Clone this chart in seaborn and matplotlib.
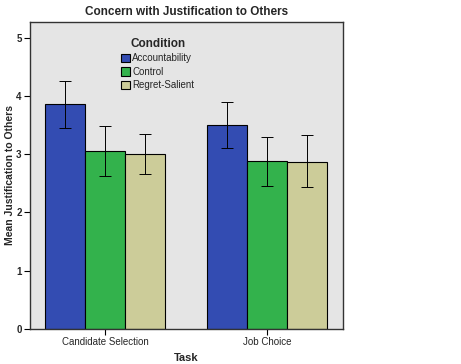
import pandas as pd
import numpy as np
import matplotlib.pyplot as plt
import seaborn as sns

tasks = ['Candidate Selection', 'Job Choice']
conditions = ['Accountability', 'Control', 'Regret-Salient']
means = {
    'Accountability': [3.86, 3.50],
    'Control': [3.05, 2.88],
    'Regret-Salient': [3.00, 2.87],
}
ci_low = {
    'Accountability': [3.45, 3.10],
    'Control': [2.63, 2.46],
    'Regret-Salient': [2.66, 2.43],
}
ci_high = {
    'Accountability': [4.26, 3.90],
    'Control': [3.49, 3.30],
    'Regret-Salient': [3.34, 3.33],
}
colors = ['#334cb2', '#33b24c', '#cccc99']

rows = []
for c in conditions:
    for i, t in enumerate(tasks):
        rows.append({'Task': t, 'Condition': c, 'Mean': means[c][i]})
df = pd.DataFrame(rows)

sns.set_style('white')
plt.rcParams['font.family'] = ['Liberation Sans', 'DejaVu Sans']

fig = plt.figure(figsize=(4.61, 3.64), dpi=100)
ax = fig.add_axes([0.065, 0.096, 0.679, 0.844])
ax.set_facecolor('#e5e5e5')

sns.barplot(data=df, x='Task', y='Mean', hue='Condition', order=tasks,
            hue_order=conditions, palette=colors, saturation=1, errorbar=None,
            width=0.74, edgecolor='black', linewidth=0.8, ax=ax, zorder=2)

# error bars at bar centres
for c, cont in zip(conditions, ax.containers):
    for i, bar in enumerate(cont):
        xc = bar.get_x() + bar.get_width() / 2
        m = means[c][i]
        ax.errorbar(xc, m, yerr=[[m - ci_low[c][i]], [ci_high[c][i] - m]],
                    color='black', linewidth=0.7, capsize=4, capthick=0.7, zorder=3)

ax.set_ylim(0, 5.27)
ax.set_xlim(-0.463, 1.47)
ax.set_yticks([0, 1, 2, 3, 4, 5])
ax.set_yticklabels(['0', '1', '2', '3', '4', '5'], fontweight='bold', fontsize=7)
ax.set_xticks([0, 1])
ax.set_xticklabels(tasks, fontsize=7)
ax.tick_params(axis='both', length=4, width=0.8, direction='out', color='black')
ax.tick_params(axis='both', which='both', bottom=True, left=True, pad=2)
for s in ax.spines.values():
    s.set_color('#333333')
    s.set_linewidth(1.0)

ax.set_xlabel('Task', fontweight='bold', fontsize=8, labelpad=4)
ax.set_ylabel('Mean Justification to Others', fontweight='bold', fontsize=7.5, labelpad=1)
ax.set_title('Concern with Justification to Others', fontweight='bold', fontsize=8.5, pad=5)

leg = ax.legend(title='Condition', loc='upper left', bbox_to_anchor=(0.28, 0.96),
                frameon=False, fontsize=7, handlelength=0.9, handleheight=0.9,
                handletextpad=0.2, labelspacing=0.35, borderaxespad=0)
leg.get_title().set_fontweight('bold')
leg.get_title().set_fontsize(8.5)

fig.savefig('out.png', dpi=100)
